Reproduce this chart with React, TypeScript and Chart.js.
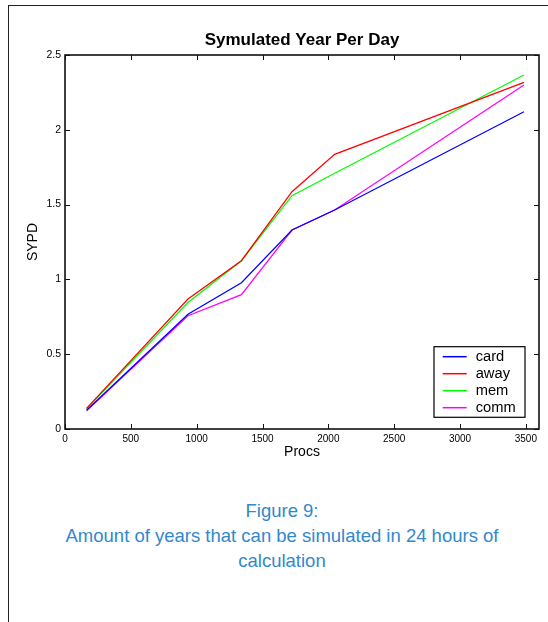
import React, { useEffect, useRef } from "react";
import { Chart, registerables } from "chart.js";

Chart.register(...registerables);

const procs = [164, 934, 1340, 1724, 2048, 3486];
const card = [0.125, 0.767, 0.978, 1.33, 1.464, 2.121];
const away = [0.138, 0.869, 1.125, 1.586, 1.836, 2.317];
const mem = [0.135, 0.845, 1.125, 1.56, 1.71, 2.366];
const comm = [0.122, 0.757, 0.898, 1.33, 1.464, 2.299];

const seriesNames = ["card", "away", "mem", "comm"];
const seriesColors = ["#0000ff", "#ff0000", "#00ff00", "#ff00ff"];

const xTickValues = [0, 500, 1000, 1500, 2000, 2500, 3000, 3500];
const xTickLabels = ["0", "500", "1000", "1500", "2000", "2500", "3000", "3500"];
const yTickValues = [0, 0.5, 1, 1.5, 2, 2.5];
const yTickLabels = ["0", "0.5", "1", "1.5", "2", "2.5"];

const titleText = "Symulated Year Per Day";
const xTitle = "Procs";
const yTitle = "SYPD";
const captionLines = [
  "Figure 9:",
  "Amount of years that can be simulated in 24 hours of",
  "calculation",
];

const FONT = "'Liberation Sans', Arial, Helvetica, sans-serif";

const frameTicksPlugin = {
  id: "frameTicks",
  afterDatasetsDraw(chart: any) {
    const { ctx, chartArea } = chart;
    const { left, right, top, bottom } = chartArea;
    const xs = chart.scales.x;
    const ys = chart.scales.y;
    ctx.save();
    ctx.strokeStyle = "#111";
    ctx.lineWidth = 1;
    ctx.beginPath();
    const tl = 5;
    xTickValues.forEach((v) => {
      const px = Math.round(xs.getPixelForValue(v)) + 0.5;
      ctx.moveTo(px, bottom);
      ctx.lineTo(px, bottom - tl);
      ctx.moveTo(px, top);
      ctx.lineTo(px, top + tl);
    });
    yTickValues.forEach((v) => {
      const py = Math.round(ys.getPixelForValue(v)) + 0.5;
      ctx.moveTo(left, py);
      ctx.lineTo(left + tl, py);
      ctx.moveTo(right, py);
      ctx.lineTo(right - tl, py);
    });
    ctx.stroke();
    ctx.lineWidth = 1.6;
    ctx.strokeRect(left, top, right - left, bottom - top);

    // legend
    const bw = 91;
    const bh = 70.6;
    const bx = right - 14 - bw;
    const by = bottom - 11.7 - bh;
    ctx.fillStyle = "#fff";
    ctx.fillRect(bx, by, bw, bh);
    ctx.lineWidth = 1.2;
    ctx.strokeStyle = "#000";
    ctx.strokeRect(bx, by, bw, bh);
    ctx.font = `14.7px ${FONT}`;
    ctx.textBaseline = "middle";
    ctx.textAlign = "left";
    chart.data.datasets.forEach((ds: any, i: number) => {
      const cy = by + 10 + i * 17;
      ctx.strokeStyle = seriesColors[i];
      ctx.lineWidth = 1.5;
      ctx.beginPath();
      ctx.moveTo(bx + 8.7, cy);
      ctx.lineTo(bx + 32.7, cy);
      ctx.stroke();
      ctx.fillStyle = "#000";
      ctx.fillText(ds.label, bx + 41.7, cy + 0.5);
    });
    ctx.restore();
  },
};

export default function App() {
  const ref = useRef<HTMLCanvasElement | null>(null);

  useEffect(() => {
    if (!ref.current) return;
    const allSeries = [card, away, mem, comm];
    const chart = new Chart(ref.current, {
      type: "line",
      data: {
        datasets: allSeries.map((s, i) => ({
          label: seriesNames[i],
          data: procs.map((p, j) => ({ x: p, y: s[j] })),
          borderColor: seriesColors[i],
          backgroundColor: seriesColors[i],
          borderWidth: 1.25,
          pointRadius: 0,
          tension: 0,
          fill: false,
        })),
      },
      options: {
        responsive: false,
        animation: false,
        devicePixelRatio: 1,
        layout: { padding: { left: 0, right: 9, top: 0, bottom: 0 } },
        plugins: {
          legend: { display: false },
          tooltip: { enabled: false },
          title: {
            display: true,
            text: titleText,
            fullSize: false,
            color: "#000",
            font: { family: FONT, size: 17, weight: "bold", lineHeight: 1.2 },
            padding: { top: 29.8, bottom: 4.8 },
          },
        },
        scales: {
          x: {
            type: "linear",
            min: 0,
            max: 3600,
            grid: { display: false, drawTicks: false },
            border: { display: false },
            afterBuildTicks: (scale: any) => {
              scale.ticks = xTickValues.map((v) => ({ value: v }));
            },
            afterFit: (scale: any) => {
              scale.height = 41;
            },
            ticks: {
              autoSkip: false,
              maxRotation: 0,
              padding: 4,
              color: "#000",
              font: { family: FONT, size: 10 },
              callback: (_v: any, i: number) => xTickLabels[i],
            },
            title: {
              display: true,
              text: xTitle,
              color: "#000",
              font: { family: FONT, size: 14, lineHeight: 1.2 },
              padding: { top: 0, bottom: 9.6 },
            },
          },
          y: {
            type: "linear",
            min: 0,
            max: 2.5,
            grid: { display: false, drawTicks: false },
            border: { display: false },
            afterBuildTicks: (scale: any) => {
              scale.ticks = yTickValues.map((v) => ({ value: v }));
            },
            afterFit: (scale: any) => {
              scale.width = 65;
            },
            ticks: {
              autoSkip: false,
              padding: 4,
              color: "#000",
              font: { family: FONT, size: 10.5 },
              callback: (_v: any, i: number) => yTickLabels[i],
            },
            title: {
              display: true,
              text: yTitle,
              color: "#000",
              font: { family: FONT, size: 14, lineHeight: 1.2 },
              padding: { top: 24.6, bottom: 0 },
            },
          },
        },
      },
      plugins: [frameTicksPlugin],
    } as any);
    return () => chart.destroy();
  }, []);

  return (
    <div
      style={{
        position: "fixed",
        left: 0,
        top: 0,
        width: 548,
        height: 622,
        overflow: "hidden",
        background: "#fff",
      }}
    >
      <div
        style={{
          position: "absolute",
          left: 8,
          top: 5,
          width: 540,
          height: 617,
          borderLeft: "1px solid #222",
          borderTop: "1px solid #222",
          boxSizing: "border-box",
        }}
      />
      <canvas
        ref={ref}
        width={548}
        height={470}
        style={{ position: "absolute", left: 0, top: 0, width: 548, height: 470 }}
      />
      <div
        style={{
          position: "absolute",
          left: 0,
          top: 497.5,
          width: 564,
          textAlign: "center",
          fontFamily: FONT,
          fontSize: 18.5,
          lineHeight: "25px",
          color: "#3288cc",
          whiteSpace: "nowrap",
        }}
      >
        {captionLines.map((l, i) => (
          <div key={i}>{l}</div>
        ))}
      </div>
    </div>
  );
}
